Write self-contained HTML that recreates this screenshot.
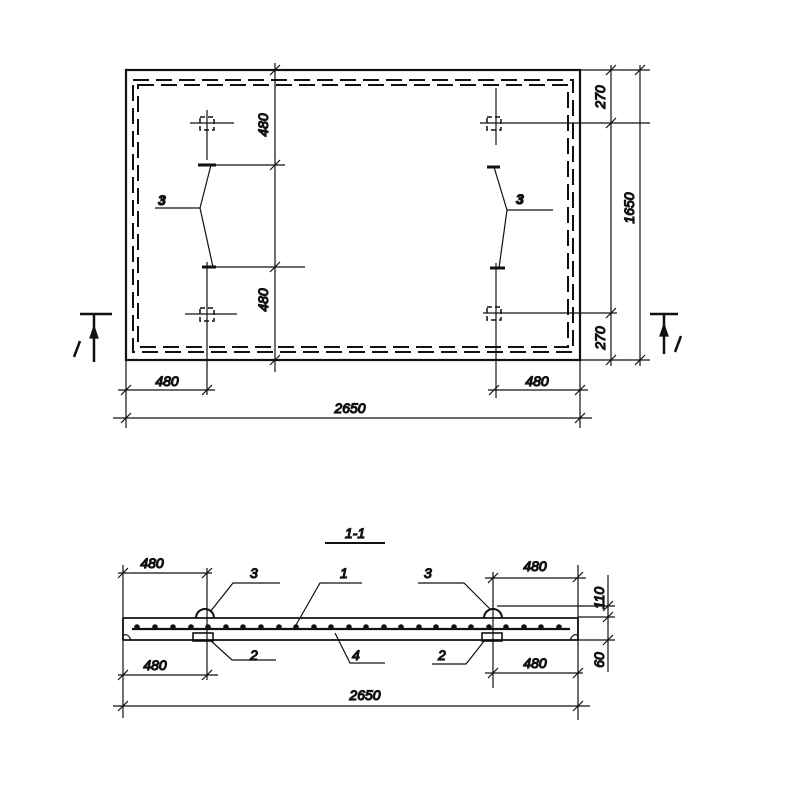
<!DOCTYPE html>
<html><head><meta charset="utf-8"><style>body{margin:0;background:#fff}svg{display:block}
text{font-family:"Liberation Sans",sans-serif;font-style:italic;font-size:14px;fill:#111}</style></head><body>
<svg width="800" height="800" viewBox="0 0 800 800" stroke="#111" fill="none" stroke-width="1.2">
<!-- plan -->
<rect x="126" y="70" width="454" height="290" stroke-width="2.2"/>
<g stroke-dasharray="16,7" stroke-width="2">
<path d="M133 80 H573 V352 H133 Z"/>
<path d="M138 85 H568 V347 H138 Z"/>
</g>
<!-- left dims -->
<path d="M275 63 V372 M270 75 L280 65 M270 170 L280 160 M270 272 L280 262 M270 365 L280 355"/>
<path d="M198 165 H285 M202 267 H305"/>
<path d="M198 165 H216 M202 267 H216" stroke-width="3"/>
<path d="M207 110 V160 M190 123 H234 M207 262 V395 M185 314 H237"/>
<path d="M200 117 H214 V130 H200 Z M200 308 H214 V321 H200 Z" stroke-dasharray="5,3" stroke-width="1.5"/>
<path d="M155 208 H200 L211 165 M200 208 L213 267"/>
<text x="158" y="205" font-weight="bold">3</text>
<text transform="translate(268,125) rotate(-90)" text-anchor="middle">480</text>
<text transform="translate(268,300) rotate(-90)" text-anchor="middle">480</text>
<!-- right -->
<path d="M496 88 V145 M480 123 H650 M496 263 V398 M483 313 H617"/>
<path d="M487 117 H501 V130 H487 Z M487 307 H501 V320 H487 Z" stroke-dasharray="5,3" stroke-width="1.5"/>
<path d="M487 167 H500 M490 268 H505" stroke-width="3"/>
<path d="M553 210 H507 L494 167 M507 210 L499 268"/>
<text x="516" y="204" font-weight="bold">3</text>
<path d="M580 70 H650 M580 360 H650 M611 65 V366 M640 65 V366"/>
<path d="M606 75 L616 65 M606 128 L616 118 M606 318 L616 308 M606 365 L616 355 M635 75 L645 65 M635 365 L645 355"/>
<text transform="translate(605,97) rotate(-90)" text-anchor="middle">270</text>
<text transform="translate(605,338) rotate(-90)" text-anchor="middle">270</text>
<text transform="translate(634,208) rotate(-90)" text-anchor="middle">1650</text>
<!-- bottom dims -->
<path d="M126 360 V428 M580 360 V428 M118 390 H215 M488 390 H588 M113 418 H592"/>
<path d="M121 395 L131 385 M202 395 L212 385 M489 395 L499 385 M575 395 L585 385 M121 423 L131 413 M575 423 L585 413"/>
<text x="167" y="386" text-anchor="middle">480</text>
<text x="537" y="386" text-anchor="middle">480</text>
<text x="350" y="413" text-anchor="middle">2650</text>
<!-- section markers -->
<path d="M80 314 H112 M94 314 V362 M650 314 H678 M664 314 V354" stroke-width="2.5"/>
<path d="M94 326 L90 338 H98 Z M664 324 L660 336 H668 Z" fill="#111"/>
<path d="M74 357 L80 341 M675 352 L681 336" stroke-width="2.5"/>
<!-- section -->
<text x="355" y="538" text-anchor="middle" font-size="18">1-1</text>
<path d="M325 543 H385" stroke-width="2"/>
<path d="M123 618 H578 M123 640 H578 M123 618 V640 M578 618 V640" stroke-width="1.8"/>
<path d="M132 629 H570" stroke-width="2.2"/>
<g fill="#111" stroke="none">
<circle cx="137" cy="627" r="2.8"/><circle cx="155" cy="627" r="2.8"/><circle cx="173" cy="627" r="2.8"/><circle cx="191" cy="627" r="2.8"/><circle cx="208" cy="627" r="2.8"/><circle cx="226" cy="627" r="2.8"/><circle cx="243" cy="627" r="2.8"/><circle cx="261" cy="627" r="2.8"/><circle cx="279" cy="627" r="2.8"/><circle cx="296" cy="627" r="2.8"/><circle cx="314" cy="627" r="2.8"/><circle cx="331" cy="627" r="2.8"/><circle cx="349" cy="627" r="2.8"/><circle cx="366" cy="627" r="2.8"/><circle cx="384" cy="627" r="2.8"/><circle cx="401" cy="627" r="2.8"/><circle cx="419" cy="627" r="2.8"/><circle cx="436" cy="627" r="2.8"/><circle cx="454" cy="627" r="2.8"/><circle cx="471" cy="627" r="2.8"/><circle cx="489" cy="627" r="2.8"/><circle cx="506" cy="627" r="2.8"/><circle cx="524" cy="627" r="2.8"/><circle cx="541" cy="627" r="2.8"/><circle cx="559" cy="627" r="2.8"/></g>
<path d="M196 618 A9 9 0 0 1 214 618 M484 618 A9 9 0 0 1 502 618" stroke-width="2"/>
<rect x="193" y="633" width="20" height="8" stroke-width="1.6"/>
<rect x="482" y="633" width="20" height="8" stroke-width="1.6"/>
<path d="M123 636 Q127 632 131 640 M578 636 Q574 632 570 640"/>
<!-- section dims -->
<path d="M123 565 V718 M578 565 V720 M207 568 V680 M493 572 V688 M608 575 V672"/>
<path d="M118 573 H212 M118 675 H218 M485 578 H586 M485 673 H583 M113 706 H590 M497 606 H615 M578 617 H615 M578 640 H615"/>
<path d="M118 578 L128 568 M202 578 L212 568 M488 583 L498 573 M573 582 L583 572 M118 680 L128 670 M202 680 L212 670 M488 678 L498 668 M573 678 L583 668 M118 711 L128 701 M573 711 L583 701 M603 611 L613 601 M603 622 L613 612 M603 645 L613 635"/>
<text x="152" y="568" text-anchor="middle">480</text>
<text x="535" y="571" text-anchor="middle">480</text>
<text x="155" y="670" text-anchor="middle">480</text>
<text x="535" y="668" text-anchor="middle">480</text>
<text x="365" y="700" text-anchor="middle">2650</text>
<text transform="translate(604,598) rotate(-90)" text-anchor="middle">110</text>
<text transform="translate(604,660) rotate(-90)" text-anchor="middle">60</text>
<path d="M210 612 L233 583 H280 M490 609 L464 583 H418 M296 625 L320 583 H362 M210 640 L232 660 H276 M335 633 L350 663 H385 M485 640 L466 664 H432"/>
<text x="250" y="578" font-size="16">3</text>
<text x="424" y="578" font-size="16">3</text>
<text x="340" y="578" font-size="16">1</text>
<text x="250" y="660" font-size="16">2</text>
<text x="438" y="660" font-size="16">2</text>
<text x="352" y="660" font-size="16">4</text>
</svg></body></html>
